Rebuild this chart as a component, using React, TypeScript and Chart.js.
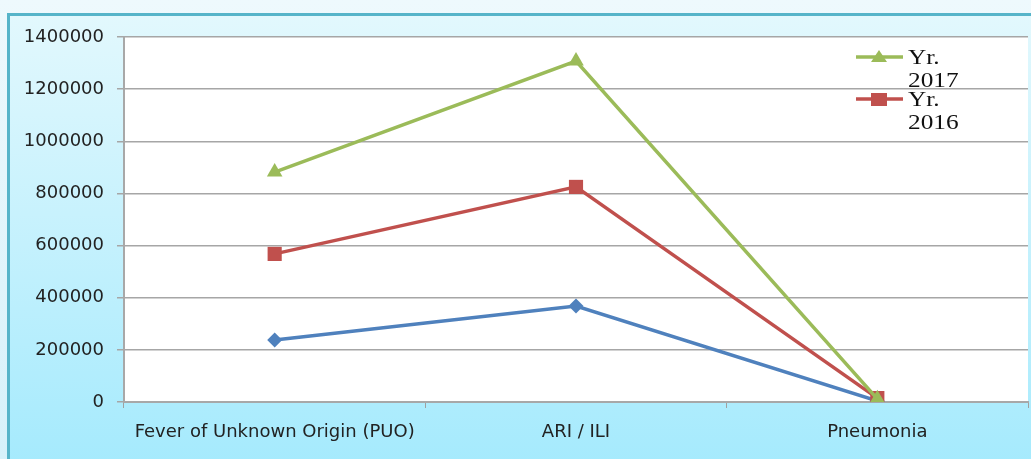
import React, { useEffect, useRef } from "react";
import { Chart, registerables } from "chart.js";

Chart.register(...registerables);

const categories = ["Fever of Unknown Origin (PUO)", "ARI / ILI", "Pneumonia"];
const seriesLabels = ["Yr. 2017", "Yr. 2016", "Yr. 2015"];
const values2017 = [882000, 1308000, 12000];
const values2016 = [568000, 825000, 15000];
const values2015 = [238000, 368000, 4000];
const yTicks = [0, 200000, 400000, 600000, 800000, 1000000, 1200000, 1400000];

const GREEN = "#9bbb59";
const RED = "#c0504d";
const BLUE = "#4f81bd";

const plotBg = {
  id: "plotBg",
  beforeDraw(chart: any) {
    const { ctx, chartArea } = chart;
    ctx.save();
    ctx.fillStyle = "#ffffff";
    ctx.fillRect(chartArea.left, chartArea.top, chartArea.right - chartArea.left, chartArea.bottom - chartArea.top);
    ctx.restore();
  },
};

const customLegend = {
  id: "customLegend",
  afterDraw(chart: any) {
    const { ctx } = chart;
    const items = chart.data.datasets.slice(0, 2);
    ctx.save();
    const x0 = 856;
    items.forEach((ds: any, i: number) => {
      const y = 57 + i * 42;
      ctx.strokeStyle = ds.borderColor;
      ctx.lineWidth = 3.5;
      ctx.beginPath();
      ctx.moveTo(x0, y);
      ctx.lineTo(x0 + 47, y);
      ctx.stroke();
      ctx.fillStyle = ds.backgroundColor;
      const cx = x0 + 23;
      if (ds.pointStyle === "triangle") {
        ctx.beginPath();
        ctx.moveTo(cx, y - 7);
        ctx.lineTo(cx + 8, y + 5);
        ctx.lineTo(cx - 8, y + 5);
        ctx.closePath();
        ctx.fill();
      } else {
        ctx.fillRect(cx - 8, y - 6, 16, 13);
      }
      const parts = String(ds.label).split(" ");
      ctx.fillStyle = "#111";
      ctx.font = "22px 'Liberation Serif', serif";
      ctx.textBaseline = "middle";
      ctx.textAlign = "left";
      ctx.save();
      ctx.translate(x0 + 52, 0);
      ctx.scale(1.15, 1);
      ctx.fillText(parts[0], 0, y + 1);
      ctx.fillText(parts[1] || "", 0, y + 24);
      ctx.restore();
    });
    ctx.restore();
  },
};

export default function App() {
  const ref = useRef<HTMLCanvasElement | null>(null);

  useEffect(() => {
    document.body.style.margin = "0";
    const canvas = ref.current;
    if (!canvas) return;
    const chart = new Chart(canvas, {
      type: "line",
      data: {
        labels: categories,
        datasets: [
          {
            label: seriesLabels[0],
            data: values2017,
            borderColor: GREEN,
            backgroundColor: GREEN,
            pointStyle: "triangle",
            pointRadius: 9,
            pointHoverRadius: 9,
            borderWidth: 3.5,
            pointBorderWidth: 0,
          },
          {
            label: seriesLabels[1],
            data: values2016,
            borderColor: RED,
            backgroundColor: RED,
            pointStyle: "rect",
            pointRadius: 10,
            pointHoverRadius: 10,
            borderWidth: 3.5,
            pointBorderWidth: 0,
          },
          {
            label: seriesLabels[2],
            data: values2015,
            borderColor: BLUE,
            backgroundColor: BLUE,
            pointStyle: "rectRot",
            pointRadius: 7.5,
            pointHoverRadius: 7.5,
            borderWidth: 3.5,
            pointBorderWidth: 0,
          },
        ],
      },
      options: {
        animation: false,
        responsive: false,
        maintainAspectRatio: false,
        layout: { padding: { top: 37, right: 0, left: 0, bottom: 0 } },
        plugins: {
          legend: { display: false },
          tooltip: { enabled: false },
        },
        scales: {
          x: {
            offset: true,
            grid: {
              offset: true,
              drawOnChartArea: false,
              tickLength: 6,
              color: "#a0a0a0",
            },
            border: { color: "#a8a8a8", width: 2 },
            ticks: {
              color: "#222",
              font: { family: "'DejaVu Sans'", size: 18 },
              padding: 14,
              maxRotation: 0,
            },
            afterFit(scale: any) {
              scale.height = 57;
            },
          },
          y: {
            min: 0,
            max: 1400000,
            afterBuildTicks(scale: any) {
              scale.ticks = yTicks.map((v) => ({ value: v }));
            },
            grid: { color: "#a6a6a6", tickLength: 7, lineWidth: 1.5 },
            border: { color: "#a8a8a8", width: 2 },
            ticks: {
              color: "#222",
              font: { family: "'DejaVu Sans'", size: 18 },
              padding: 13,
              callback: (v: any) => String(v),
            },
            afterFit(scale: any) {
              scale.width = 124;
            },
          },
        },
      },
      plugins: [plotBg, customLegend],
    });
    return () => chart.destroy();
  }, []);

  return (
    <div style={{ position: "relative", width: 1031, height: 459, overflow: "hidden", background: "linear-gradient(180deg,#eef9fd,#d6f1fa)" }}>
      <div
        style={{
          position: "absolute",
          left: 7,
          top: 13,
          width: 1040,
          height: 460,
          borderLeft: "3px solid #56b4c9",
          borderTop: "3px solid #56b4c9",
          background: "linear-gradient(180deg,#e2f8fd 0%,#c4f1fd 50%,#a4eafd 100%)",
          boxSizing: "border-box",
        }}
      />
      <canvas ref={ref} width={1038} height={459} style={{ position: "absolute", left: 0, top: 0, width: 1038, height: 459 }} />
    </div>
  );
}
